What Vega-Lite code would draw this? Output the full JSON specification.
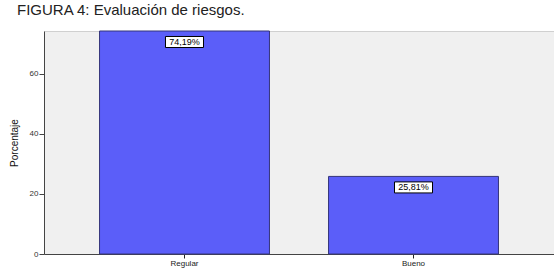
{
  "$schema": "https://vega.github.io/schema/vega-lite/v6.json",
  "autosize": {"type": "none"},
  "padding": {"left": 44, "top": 31, "right": 0, "bottom": 15},
  "width": 510,
  "height": 223,
  "background": "white",
  "title": {
    "text": "FIGURA 4: Evaluación de riesgos.",
    "anchor": "start",
    "frame": "group",
    "dx": -27,
    "offset": 13,
    "font": "Liberation Sans",
    "fontSize": 15,
    "fontWeight": "normal",
    "color": "#222222"
  },
  "config": {
    "view": {"fill": "#f0f0f0", "stroke": "#d0d0d0", "strokeWidth": 1},
    "axis": {"labelFont": "Liberation Sans", "titleFont": "Liberation Sans", "grid": false}
  },
  "data": {
    "values": [
      {"categoria": "Regular", "porcentaje": 74.19, "etiqueta": "74,19%"},
      {"categoria": "Bueno", "porcentaje": 25.81, "etiqueta": "25,81%"}
    ]
  },
  "encoding": {
    "x": {
      "field": "categoria",
      "type": "nominal",
      "sort": ["Regular", "Bueno"],
      "scale": {"paddingInner": 0.258, "paddingOuter": 0.2425},
      "axis": {
        "title": null,
        "labelAngle": 0,
        "labelFontSize": 8,
        "labelColor": "#222222",
        "domainColor": "#444444",
        "tickColor": "#222222",
        "tickSize": 4,
        "labelPadding": 1
      }
    },
    "y": {
      "field": "porcentaje",
      "type": "quantitative",
      "scale": {"domain": [0, 74.19], "nice": false},
      "axis": {
        "title": "Porcentaje",
        "titleFontSize": 10,
        "titleFontWeight": "normal",
        "titleColor": "#111111",
        "titlePadding": 10,
        "values": [0, 20, 40, 60],
        "labelFontSize": 8,
        "labelColor": "#333333",
        "domainColor": "#444444",
        "tickColor": "#444444",
        "tickSize": 5,
        "labelPadding": 1
      }
    }
  },
  "layer": [
    {
      "mark": {"type": "bar", "color": "#5b5ef9", "stroke": "#34347a", "strokeWidth": 1}
    },
    {
      "mark": {
        "type": "point",
        "shape": "M-1,-0.29L1,-0.29L1,0.29L-1,0.29Z",
        "size": 1444,
        "filled": true,
        "fill": "white",
        "stroke": "black",
        "strokeWidth": 1,
        "opacity": 1,
        "yOffset": 11
      }
    },
    {
      "mark": {
        "type": "text",
        "font": "Liberation Sans",
        "fontSize": 9,
        "color": "black",
        "baseline": "middle",
        "dy": 11
      },
      "encoding": {"text": {"field": "etiqueta"}}
    }
  ]
}
